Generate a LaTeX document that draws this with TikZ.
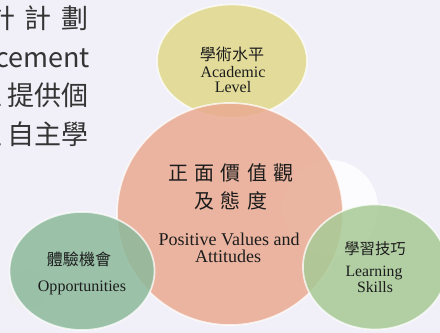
\documentclass[tikz,border=0pt]{standalone}
\usepackage{fontspec}
\setmainfont{Liberation Serif}
\newfontfamily\cjk{Noto Sans CJK TC}
\newfontfamily\cjkwide[LetterSpace=32]{Noto Sans CJK TC}
\usetikzlibrary{shapes.geometric}
\definecolor{slidebg}{RGB}{241,239,247}
\definecolor{academic}{RGB}{224,216,138}
\definecolor{values}{RGB}{233,170,145}
\definecolor{opportunity}{RGB}{140,186,156}
\definecolor{learning}{RGB}{168,202,150}
\definecolor{inkgray}{RGB}{28,28,28}
\definecolor{sidegray}{RGB}{52,52,52}

\begin{document}
\begin{tikzpicture}[
    x=0.025cm, y=-0.025cm,
    bubble/.style={ellipse, draw=white, line width=1.2pt, inner sep=0pt,
                   fill opacity=0.85, draw opacity=0.75},
    zh/.style={anchor=base, text=inkgray, font=\cjk\fontsize{#1}{#1}\selectfont},
    en/.style={anchor=base, text=inkgray, font=\fontsize{#1}{#1}\selectfont},
    side/.style={anchor=base east, inner sep=0pt, text=sidegray, font=\cjk\fontsize{19.2}{19.2}\selectfont}
]
\useasboundingbox (0,0) rectangle (440,333);
\fill[slidebg] (0,0) rectangle (440,333);
\clip (0,0) rectangle (440,333);

% cut-off slide text on the left
\node[side] (side1) at (89,29) {計\hspace{7pt}計\hspace{7pt}劃};
\node[side] (side2) at (90,68) {ncement};
\node[side] (side3) at (89,106) {並\hspace{4pt}提供個};
\node[side] (side4) at (89,145) {生\hspace{4pt}自主學};

% faint highlights behind the bubbles
\node[circle, fill=black!6, fill opacity=0.5, minimum size=1cm] (glowleft) at (28,290) {};
\node[circle, fill=white, fill opacity=0.8, minimum size=2.4cm] (glowright) at (330,208) {};

% Academic level
\node[bubble, fill=academic, minimum width=3.75cm, minimum height=2.825cm] (academic) at (232,61) {};

% Positive values and attitudes
\node[bubble, fill=values, minimum width=5.65cm, minimum height=5.55cm] (values) at (230,214) {};

% Opportunities
\node[bubble, fill=opportunity, minimum width=3.625cm, minimum height=2.95cm] (opportunity) at (82,271) {};

% Learning skills
\node[bubble, fill=learning, minimum width=3.6cm, minimum height=3.125cm] (learning) at (375,267) {};

% labels
\node[zh=11.4] (academiczh) at (232,61) {學術水平};
\node[en=11.4] (academicen) at (233,78) {Academic};
\node[en=11.4] (academicen2) at (233,93) {Level};

\node[zh=14.2, font=\cjkwide\fontsize{14.2}{14.2}\selectfont] (valueszh) at (231,181) {正面價值觀};
\node[zh=14.2, font=\cjkwide\fontsize{14.2}{14.2}\selectfont] (valueszh2) at (231,209) {及態度};
\node[en=12.8] (valuesen) at (229,246) {Positive Values and};
\node[en=12.8] (valuesen2) at (228,263) {Attitudes};

\node[zh=11.4] (opportunityzh) at (79,266) {體驗機會};
\node[en=11.4] (opportunityen) at (82,292) {Opportunities};

\node[zh=10.9] (learningzh) at (375,255) {學習技巧};
\node[en=11.2] (learningen) at (374,277) {Learning};
\node[en=11.2] (learningen2) at (375,293) {Skills};

\end{tikzpicture}
\end{document}
